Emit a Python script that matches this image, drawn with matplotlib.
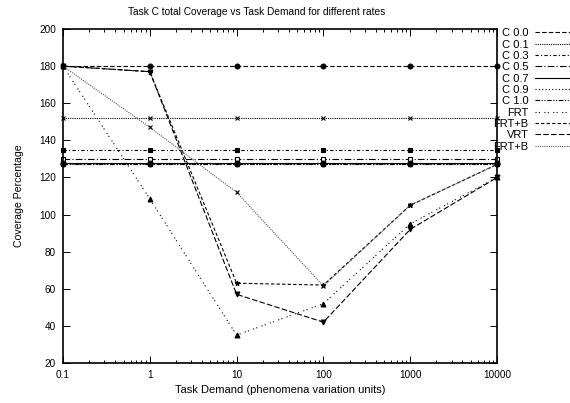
import matplotlib
matplotlib.use("Agg")
import matplotlib.pyplot as plt
from matplotlib.ticker import FixedLocator, NullFormatter, LogLocator

plt.rcParams['font.family'] = ['Liberation Sans', 'DejaVu Sans']
plt.rcParams['font.size'] = 7.2

demand = [0.1, 1, 10, 100, 1000, 10000]

labels = ["C 0.0", "C 0.1", "C 0.3", "C 0.5", "C 0.7", "C 0.9", "C 1.0",
          "FRT", "FRT+B", "VRT", "FRT+B"]

c00 = [180, 180, 180, 180, 180, 180]
c01 = [152, 152, 152, 152, 152, 152]
c03 = [135, 135, 135, 135, 135, 135]
c05 = [130, 130, 130, 130, 130, 130]
c07 = [128, 128, 128, 128, 128, 128]
c09 = [127, 127, 127, 127, 127, 127]
c10 = [127, 127, 127, 127, 127, 127]
frt = [180, 108.5, 35, 52, 95, 120]
frtb = [180, 177, 63, 62, 105, 127]
vrt = [180, 177, 57, 42, 92, 120]
frtb2 = [180, 147, 112, 61.5, 105, 127]

series = [c00, c01, c03, c05, c07, c09, c10, frt, frtb, vrt, frtb2]

# line styles (gnuplot-ish monochrome)
dashes = [(4, 2), (1, 1), (3, 2, 1, 2), (6, 2, 1, 2), None, (1, 2),
          (4, 1.5, 1, 1.5, 1, 1.5), (1, 2, 1, 4), (3, 2), (5, 2), (1, 1)]
markers = ['o', 'x', 's', 's', 'o', 'o', 's', '^', '*', 'v', 'x']
mfill = ['k', 'k', 'k', 'w', 'k', 'k', 'k', 'k', 'k', 'k', 'k']
colors = ['k', 'k', 'k', 'k', 'k', 'k', 'k', 'k', 'k', 'k', '0.35']

fig = plt.figure(figsize=(5.7, 4.03), dpi=100)
ax = fig.add_axes([0.1105, 0.0993, 0.7615, 0.8287])

for i, ys in enumerate(series):
    line, = ax.plot(demand, ys, color=colors[i], lw=0.8, label=labels[i],
                    marker=markers[i], markersize=3.5, markerfacecolor=mfill[i],
                    markeredgecolor='k', markeredgewidth=0.8, clip_on=False)
    if dashes[i] is not None:
        line.set_dashes(dashes[i])

ax.set_xscale('log')
ax.set_xlim(0.1, 10000)
ax.set_ylim(20, 200)
ax.yaxis.set_major_locator(FixedLocator(range(20, 201, 20)))
ax.xaxis.set_major_locator(FixedLocator(demand))
ax.set_xticklabels(["0.1", "1", "10", "100", "1000", "10000"])
ax.xaxis.set_minor_locator(LogLocator(base=10, subs=range(2, 10)))
ax.xaxis.set_minor_formatter(NullFormatter())
ax.tick_params(which='major', direction='in', length=5, width=0.7,
               top=True, right=True, pad=5)
ax.tick_params(which='minor', direction='in', length=2.5, width=0.7,
               top=True, right=True)
for s in ax.spines.values():
    s.set_linewidth(1.2)

fig.text(0.451, 0.97, "Task C total Coverage vs Task Demand for different rates",
         fontsize=7.3, ha='center', va='center')
ax.set_xlabel("Task Demand (phenomena variation units)", fontsize=8, labelpad=4)
ax.set_ylabel("Coverage Percentage", fontsize=7.6, labelpad=11)

ax.legend(loc='upper left', bbox_to_anchor=(0.866, 0.93),
          bbox_transform=fig.transFigure, markerfirst=False, frameon=False,
          fontsize=8, handlelength=4.0, handletextpad=0.55, labelspacing=0.12,
          borderpad=0, borderaxespad=0)
leg = ax.get_legend()
for h in leg.legend_handles:
    h.set_marker('')

fig.savefig("out.png", dpi=100)
